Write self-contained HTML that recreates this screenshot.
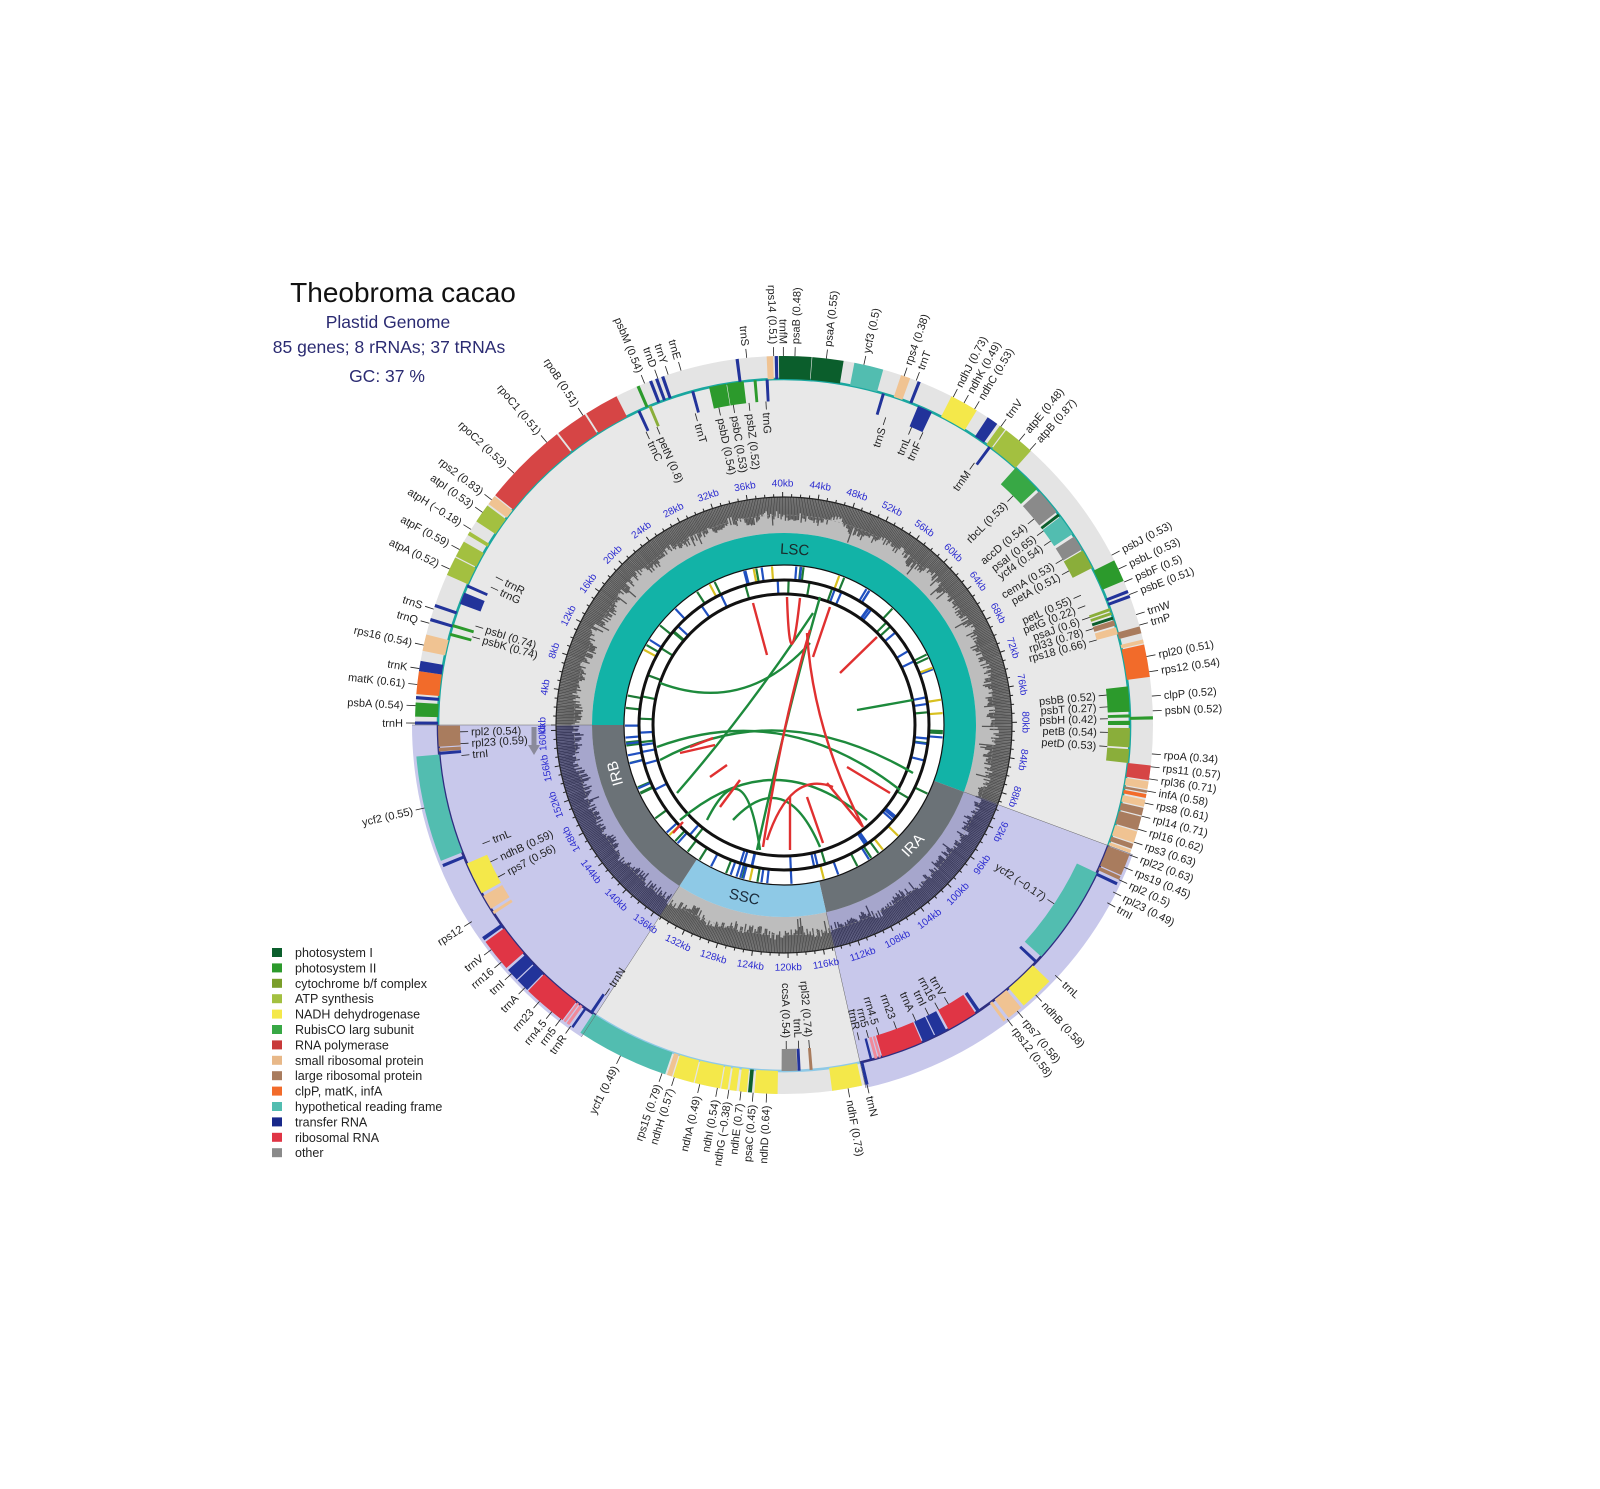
<!DOCTYPE html>
<html><head><meta charset="utf-8">
<style>
html,body{margin:0;padding:0;background:#fff;}
svg{display:block;font-family:"Liberation Sans",sans-serif;}
.lb{font-size:11px;fill:#222;}
.kb{font-size:10px;fill:#2c2cd0;}
.lg{font-size:12.5px;fill:#222;}
</style></head>
<body>
<svg id="S" width="1600" height="1489" viewBox="0 0 1600 1489" xmlns="http://www.w3.org/2000/svg">
<g id="base"></g>
<g id="gc"></g>
<g id="band"></g>
<g id="inner"></g>
<g id="genes"></g>
<g id="lead" stroke="#222" stroke-width="0.8" fill="none"></g>
<g id="labs">
<text class="lb" ph="180.3" sd="o">trnH</text>
<text class="lb" ph="183" sd="o">psbA (0.54)</text>
<text class="lb" ph="186.3" sd="o">matK (0.61)</text>
<text class="lb" ph="188.8" sd="o">trnK</text>
<text class="lb" ph="192.5" sd="o">rps16 (0.54)</text>
<text class="lb" ph="196" sd="o">trnQ</text>
<text class="lb" ph="198.3" sd="o">trnS</text>
<text class="lb" ph="205" sd="o">atpA (0.52)</text>
<text class="lb" ph="208.4" sd="o">atpF (0.59)</text>
<text class="lb" ph="212" sd="o">atpH (−0.18)</text>
<text class="lb" ph="215.2" sd="o">atpI (0.53)</text>
<text class="lb" ph="217.6" sd="o">rps2 (0.83)</text>
<text class="lb" ph="223" sd="o">rpoC2 (0.53)</text>
<text class="lb" ph="230" sd="o">rpoC1 (0.51)</text>
<text class="lb" ph="237" sd="o">rpoB (0.51)</text>
<text class="lb" ph="247.8" sd="o">psbM (0.54)</text>
<text class="lb" ph="250" sd="o">trnD</text>
<text class="lb" ph="251.7" sd="o">trnY</text>
<text class="lb" ph="253.8" sd="o">trnE</text>
<text class="lb" ph="264.2" sd="o">trnS</text>
<text class="lb" ph="268.4" sd="o">rps14 (0.51)</text>
<text class="lb" ph="269.9" sd="o">trnfM</text>
<text class="lb" ph="271.7" sd="o">psaB (0.48)</text>
<text class="lb" ph="276.6" sd="o">psaA (0.55)</text>
<text class="lb" ph="282.5" sd="o">ycf3 (0.5)</text>
<text class="lb" ph="289" sd="o">rps4 (0.38)</text>
<text class="lb" ph="291" sd="o">trnT</text>
<text class="lb" ph="297.3" sd="o">ndhJ (0.73)</text>
<text class="lb" ph="299.2" sd="o">ndhK (0.49)</text>
<text class="lb" ph="301.1" sd="o">ndhC (0.53)</text>
<text class="lb" ph="306" sd="o">trnV</text>
<text class="lb" ph="309.6" sd="o">atpE (0.48)</text>
<text class="lb" ph="311.8" sd="o">atpB (0.87)</text>
<text class="lb" ph="-27.4" sd="o">psbJ (0.53)</text>
<text class="lb" ph="-25" sd="o">psbL (0.53)</text>
<text class="lb" ph="-22.8" sd="o">psbF (0.5)</text>
<text class="lb" ph="-20.7" sd="o">psbE (0.51)</text>
<text class="lb" ph="-17.4" sd="o">trnW</text>
<text class="lb" ph="-15.7" sd="o">trnP</text>
<text class="lb" ph="-10.7" sd="o">rpl20 (0.51)</text>
<text class="lb" ph="-8.3" sd="o">rps12 (0.54)</text>
<text class="lb" ph="-4.5" sd="o">clpP (0.52)</text>
<text class="lb" ph="-2.2" sd="o">psbN (0.52)</text>
<text class="lb" ph="4.5" sd="o">rpoA (0.34)</text>
<text class="lb" ph="6.5" sd="o">rps11 (0.57)</text>
<text class="lb" ph="8.4" sd="o">rpl36 (0.71)</text>
<text class="lb" ph="10.3" sd="o">infA (0.58)</text>
<text class="lb" ph="12.2" sd="o">rps8 (0.61)</text>
<text class="lb" ph="14.3" sd="o">rpl14 (0.71)</text>
<text class="lb" ph="16.4" sd="o">rpl16 (0.62)</text>
<text class="lb" ph="18.5" sd="o">rps3 (0.63)</text>
<text class="lb" ph="20.6" sd="o">rpl22 (0.63)</text>
<text class="lb" ph="22.7" sd="o">rps19 (0.45)</text>
<text class="lb" ph="24.8" sd="o">rpl2 (0.5)</text>
<text class="lb" ph="26.9" sd="o">rpl23 (0.49)</text>
<text class="lb" ph="28.8" sd="o">trnI</text>
<text class="lb" ph="42.7" sd="o">trnL</text>
<text class="lb" ph="47" sd="o">ndhB (0.58)</text>
<text class="lb" ph="50.8" sd="o">rps7 (0.58)</text>
<text class="lb" ph="52.8" sd="o">rps12 (0.58)</text>
<text class="lb" ph="77" sd="o">trnN</text>
<text class="lb" ph="80" sd="o">ndhF (0.73)</text>
<text class="lb" ph="92.7" sd="o">ndhD (0.64)</text>
<text class="lb" ph="94.8" sd="o">psaC (0.45)</text>
<text class="lb" ph="96.7" sd="o">ndhE (0.7)</text>
<text class="lb" ph="98.6" sd="o">ndhG (−0.38)</text>
<text class="lb" ph="100.4" sd="o">ndhI (0.54)</text>
<text class="lb" ph="103.2" sd="o">ndhA (0.49)</text>
<text class="lb" ph="107.3" sd="o">ndhH (0.57)</text>
<text class="lb" ph="109.3" sd="o">rps15 (0.79)</text>
<text class="lb" ph="116.3" sd="o">ycf1 (0.49)</text>
<text class="lb" ph="125.3" sd="o">trnR</text>
<text class="lb" ph="127.2" sd="o">rrn5</text>
<text class="lb" ph="129" sd="o">rrn4.5</text>
<text class="lb" ph="131.5" sd="o">rrn23</text>
<text class="lb" ph="134.6" sd="o">trnA</text>
<text class="lb" ph="137.6" sd="o">trnI</text>
<text class="lb" ph="140" sd="o">rrn16</text>
<text class="lb" ph="142.5" sd="o">trnV</text>
<text class="lb" ph="147.8" sd="o">rps12</text>
<text class="lb" ph="167" sd="o">ycf2 (0.55)</text>
<text class="lb" ph="207.2" sd="i">trnR</text>
<text class="lb" ph="205.2" sd="i">trnG</text>
<text class="lb" ph="197.8" sd="i">psbI (0.74)</text>
<text class="lb" ph="195.8" sd="i">psbK (0.74)</text>
<text class="lb" ph="178.8" sd="i">rpl2 (0.54)</text>
<text class="lb" ph="176.7" sd="i">rpl23 (0.59)</text>
<text class="lb" ph="174.6" sd="i">trnI</text>
<text class="lb" ph="158.5" sd="i">trnL</text>
<text class="lb" ph="155" sd="i">ndhB (0.59)</text>
<text class="lb" ph="152" sd="i">rps7 (0.56)</text>
<text class="lb" ph="123.5" sd="i">trnN</text>
<text class="lb" ph="244.8" sd="i">trnC</text>
<text class="lb" ph="246.9" sd="i">petN (0.8)</text>
<text class="lb" ph="254.1" sd="i">trnT</text>
<text class="lb" ph="258.4" sd="i">psbD (0.54)</text>
<text class="lb" ph="261" sd="i">psbC (0.53)</text>
<text class="lb" ph="263.8" sd="i">psbZ (0.52)</text>
<text class="lb" ph="266.8" sd="i">trnG</text>
<text class="lb" ph="-71.7" sd="i">trnS</text>
<text class="lb" ph="-66.8" sd="i">trnL</text>
<text class="lb" ph="-64.6" sd="i">trnF</text>
<text class="lb" ph="-54" sd="i">trnM</text>
<text class="lb" ph="-45" sd="i">rbcL (0.53)</text>
<text class="lb" ph="-39.5" sd="i">accD (0.54)</text>
<text class="lb" ph="-36.8" sd="i">psaI (0.65)</text>
<text class="lb" ph="-34.6" sd="i">ycf4 (0.54)</text>
<text class="lb" ph="-30.7" sd="i">cemA (0.53)</text>
<text class="lb" ph="-28.4" sd="i">petA (0.51)</text>
<text class="lb" ph="-23.6" sd="i">petL (0.55)</text>
<text class="lb" ph="-21.6" sd="i">petG (0.22)</text>
<text class="lb" ph="-19.4" sd="i">psaJ (0.6)</text>
<text class="lb" ph="-17.3" sd="i">rpl33 (0.78)</text>
<text class="lb" ph="-15.2" sd="i">rps18 (0.66)</text>
<text class="lb" ph="-5.3" sd="i">psbB (0.52)</text>
<text class="lb" ph="-3.2" sd="i">psbT (0.27)</text>
<text class="lb" ph="-1.1" sd="i">psbH (0.42)</text>
<text class="lb" ph="1.3" sd="i">petB (0.54)</text>
<text class="lb" ph="3.8" sd="i">petD (0.53)</text>
<text class="lb" ph="33.5" sd="i">ycf2 (−0.17)</text>
<text class="lb" ph="59.5" sd="i">trnV</text>
<text class="lb" ph="61.5" sd="i">rrn16</text>
<text class="lb" ph="63.5" sd="i">trnI</text>
<text class="lb" ph="66" sd="i">trnA</text>
<text class="lb" ph="69.7" sd="i">rrn23</text>
<text class="lb" ph="73" sd="i">rrn4.5</text>
<text class="lb" ph="74.9" sd="i">rrn5</text>
<text class="lb" ph="76.6" sd="i">trnR</text>
<text class="lb" ph="85.5" sd="i">rpl32 (0.74)</text>
<text class="lb" ph="87.4" sd="i">trnL</text>
<text class="lb" ph="89.6" sd="i">ccsA (0.54)</text>
</g>
<g id="kbs">
<text class="kb" k="0">0kb</text><text class="kb" k="4">4kb</text><text class="kb" k="8">8kb</text><text class="kb" k="12">12kb</text><text class="kb" k="16">16kb</text><text class="kb" k="20">20kb</text><text class="kb" k="24">24kb</text><text class="kb" k="28">28kb</text><text class="kb" k="32">32kb</text><text class="kb" k="36">36kb</text><text class="kb" k="40">40kb</text><text class="kb" k="44">44kb</text><text class="kb" k="48">48kb</text><text class="kb" k="52">52kb</text><text class="kb" k="56">56kb</text><text class="kb" k="60">60kb</text><text class="kb" k="64">64kb</text><text class="kb" k="68">68kb</text><text class="kb" k="72">72kb</text><text class="kb" k="76">76kb</text><text class="kb" k="80">80kb</text><text class="kb" k="84">84kb</text><text class="kb" k="88">88kb</text><text class="kb" k="92">92kb</text><text class="kb" k="96">96kb</text><text class="kb" k="100">100kb</text><text class="kb" k="104">104kb</text><text class="kb" k="108">108kb</text><text class="kb" k="112">112kb</text><text class="kb" k="116">116kb</text><text class="kb" k="120">120kb</text><text class="kb" k="124">124kb</text><text class="kb" k="128">128kb</text><text class="kb" k="132">132kb</text><text class="kb" k="136">136kb</text><text class="kb" k="140">140kb</text><text class="kb" k="144">144kb</text><text class="kb" k="148">148kb</text><text class="kb" k="152">152kb</text><text class="kb" k="156">156kb</text><text class="kb" k="159.3">160kb</text>
</g>
<g id="regl" font-size="15" text-anchor="middle">
<text id="tLSC" fill="#1a2a2a">LSC</text>
<text id="tIRA" fill="#fff">IRA</text>
<text id="tSSC" fill="#1a2a3a">SSC</text>
<text id="tIRB" fill="#fff">IRB</text>
</g>
<line x1="534" y1="727" x2="534" y2="746" stroke="#8a8a9a" stroke-width="5"/>
<polygon points="528,745 540,745 534,755" fill="#8a8a9a"/>
<text x="403" y="302" font-size="28" text-anchor="middle" fill="#111">Theobroma cacao</text>
<text x="388" y="328" font-size="17.5" text-anchor="middle" fill="#2b2b72">Plastid Genome</text>
<text x="389" y="353" font-size="17.5" text-anchor="middle" fill="#2b2b72">85 genes; 8 rRNAs; 37 tRNAs</text>
<text x="387" y="382" font-size="17.5" text-anchor="middle" fill="#2b2b72">GC: 37 %</text>
<g id="legend">
<rect x="272" y="948" width="10" height="9" fill="#0b5e2c"/><text class="lg" x="295" y="957">photosystem I</text>
<rect x="272" y="963.4" width="10" height="9" fill="#2c9a2c"/><text class="lg" x="295" y="972.4">photosystem II</text>
<rect x="272" y="978.8" width="10" height="9" fill="#7a9e2a"/><text class="lg" x="295" y="987.8">cytochrome b/f complex</text>
<rect x="272" y="994.2" width="10" height="9" fill="#a3c040"/><text class="lg" x="295" y="1003.2">ATP synthesis</text>
<rect x="272" y="1009.6" width="10" height="9" fill="#f4e84a"/><text class="lg" x="295" y="1018.6">NADH dehydrogenase</text>
<rect x="272" y="1025" width="10" height="9" fill="#38a845"/><text class="lg" x="295" y="1034">RubisCO larg subunit</text>
<rect x="272" y="1040.4" width="10" height="9" fill="#c83a3a"/><text class="lg" x="295" y="1049.4">RNA polymerase</text>
<rect x="272" y="1055.8" width="10" height="9" fill="#e8b888"/><text class="lg" x="295" y="1064.8">small ribosomal protein</text>
<rect x="272" y="1071.2" width="10" height="9" fill="#a97c5e"/><text class="lg" x="295" y="1080.2">large ribosomal protein</text>
<rect x="272" y="1086.6" width="10" height="9" fill="#f26b2a"/><text class="lg" x="295" y="1095.6">clpP, matK, infA</text>
<rect x="272" y="1102" width="10" height="9" fill="#52bdb0"/><text class="lg" x="295" y="1111">hypothetical reading frame</text>
<rect x="272" y="1117.4" width="10" height="9" fill="#18288a"/><text class="lg" x="295" y="1126.4">transfer RNA</text>
<rect x="272" y="1132.8" width="10" height="9" fill="#e03545"/><text class="lg" x="295" y="1141.8">ribosomal RNA</text>
<rect x="272" y="1148.2" width="10" height="9" fill="#8a8a8a"/><text class="lg" x="295" y="1157.2">other</text>
</g>
</svg>
<script>
(function(){
var NS="http://www.w3.org/2000/svg",cx=784,cy=725;
function el(p,t,a){var e=document.createElementNS(NS,t);for(var k in a)e.setAttribute(k,a[k]);p.appendChild(e);return e;}
function pt(r,a){a=a*Math.PI/180;return [cx+r*Math.cos(a),cy+r*Math.sin(a)];}
function f(p){return p[0].toFixed(2)+","+p[1].toFixed(2);}
function sec(r1,r2,a1,a2){var l=(a2-a1)>180?1:0;
 return "M"+f(pt(r2,a1))+"A"+r2+","+r2+" 0 "+l+" 1 "+f(pt(r2,a2))+"L"+f(pt(r1,a2))+"A"+r1+","+r1+" 0 "+l+" 0 "+f(pt(r1,a1))+"Z";}
function A(k){return 180+k*360/160.6;}
var base=document.getElementById("base"),gc=document.getElementById("gc"),band=document.getElementById("band"),inner=document.getElementById("inner"),genes=document.getElementById("genes"),lead=document.getElementById("lead");
var LSC=[180,380.4],IRA=[380.4,437.3],SSC=[437.3,483],IRB=[483,540];
el(base,"circle",{cx:cx,cy:cy,r:369,fill:"#e4e4e4"});
el(base,"circle",{cx:cx,cy:cy,r:346,fill:"#e8e8e8"});
[IRA,IRB].forEach(function(g){el(base,"path",{d:sec(192,372,g[0],g[1]),fill:"#c8c8eb"});});
[[LSC,"#bdbdbd"],[SSC,"#bdbdbd"],[IRA,"#a6a6cc"],[IRB,"#a6a6cc"]].forEach(function(g){el(gc,"path",{d:sec(192,228,g[0][0],g[0][1]),fill:g[1]});});
var seed=7;function rnd(){seed=(seed*16807)%2147483647;return seed/2147483647;}
var dL="",dI="";
for(var i=0;i<900;i++){var a=180+i*0.4;var na=((a-180)%360+360)%360+180;
 var len=12+7*(0.5+0.5*Math.sin(i*0.21)*Math.cos(i*0.047))+rnd()*9;
 if(rnd()<0.04)len+=8;
 var p1=pt(228,a),p2=pt(228-len,a);var s="M"+f(p1)+"L"+f(p2);
 if((na>=IRA[0]&&na<IRA[1])||(na>=IRB[0]&&na<IRB[1]))dI+=s;else dL+=s;}
el(gc,"path",{d:dL,stroke:"#555",fill:"none","stroke-width":1.3});
el(gc,"path",{d:dI,stroke:"#3d3d5e",fill:"none","stroke-width":1.3});
el(gc,"circle",{cx:cx,cy:cy,r:210,fill:"none",stroke:"#9a9a9a","stroke-width":0.6,"stroke-dasharray":"2,2"});
el(gc,"circle",{cx:cx,cy:cy,r:228,fill:"none",stroke:"#222","stroke-width":1.2});
var tk="";for(var k=0;k<=160;k++){var l=(k%4==0)?5:3;tk+="M"+f(pt(228,A(k)))+"L"+f(pt(228+l,A(k)));}
el(gc,"path",{d:tk,stroke:"#222","stroke-width":1,fill:"none"});
el(band,"path",{d:sec(160,192,LSC[0],LSC[1]),fill:"#12b3a7"});
el(band,"path",{d:sec(160,192,IRA[0],IRA[1]),fill:"#6b7277"});
el(band,"path",{d:sec(160,192,SSC[0],SSC[1]),fill:"#8ec9e6"});
el(band,"path",{d:sec(160,192,IRB[0],IRB[1]),fill:"#6b7277"});
function tang(id,ang,r){var t=document.getElementById(id);var p=pt(r,ang);var n=((ang%360)+360)%360;var rot=(n>30&&n<150)?n-90:n+90;
 t.setAttribute("x",p[0]);t.setAttribute("y",p[1]);t.setAttribute("dy","0.35em");t.setAttribute("transform","rotate("+rot+" "+p[0]+" "+p[1]+")");}
tang("tLSC",-86.5,176);tang("tIRA",43,176);tang("tSSC",103,176);tang("tIRB",164,176);
el(inner,"circle",{cx:cx,cy:cy,r:160,fill:"#fff",stroke:"#111","stroke-width":1.2});
var cols=["#1d7a35","#1d7a35","#1d7a35","#2050c0","#2050c0","#d8c020"];
var d1={};
for(var i=0;i<75;i++){var a=rnd()*360;var c=cols[Math.floor(rnd()*cols.length)];d1[c]=(d1[c]||"")+"M"+f(pt(146,a))+"L"+f(pt(159,a));}
for(var i=0;i<55;i++){var a=rnd()*360;var c=rnd()<0.55?"#2050c0":"#1d7a35";d1[c]=(d1[c]||"")+"M"+f(pt(132,a))+"L"+f(pt(144,a));}
for(var c in d1)el(inner,"path",{d:d1[c],stroke:c,"stroke-width":2.2,fill:"none"});
el(inner,"circle",{cx:cx,cy:cy,r:145,fill:"none",stroke:"#111","stroke-width":3});
el(inner,"circle",{cx:cx,cy:cy,r:131,fill:"none",stroke:"#111","stroke-width":3});
var G="#1d8a3c",R="#e03030";
var ch=[
[G,"M660,683 Q745,715 810,643"],[G,"M857,710 L913,700"],[G,"M677,793 Q745,715 813,613"],
[G,"M657,747 Q785,700 900,790"],[G,"M660,760 Q780,695 913,773"],[G,"M680,820 Q775,740 867,820"],
[G,"M707,820 Q745,745 760,850"],[G,"M757,850 Q790,700 820,597"],[G,"M733,820 Q785,765 820,847"],
[R,"M753,603 L767,655"],[R,"M787,597 Q790,690 800,598"],[R,"M830,607 L813,657"],[R,"M877,637 L840,673"],
[R,"M810,630 Q783,720 763,847"],[R,"M807,633 Q813,730 863,827"],[R,"M690,747 L713,738"],[R,"M680,753 L715,745"],
[R,"M710,777 L727,765"],[R,"M720,807 L740,780"],[R,"M767,840 Q790,770 833,787"],[R,"M790,797 L790,850"],
[R,"M807,797 L823,843"],[R,"M827,783 L863,827"],[R,"M847,767 L890,793"],[R,"M673,833 L683,822"]];
ch.forEach(function(c){el(inner,"path",{d:c[1],stroke:c[0],"stroke-width":2.4,fill:"none"});});
[[LSC,"#1aa79f"],[IRA,"#2e2e80"],[SSC,"#8ec9e6"],[IRB,"#2e2e80"]].forEach(function(g){
 var lf=(g[0][1]-g[0][0])>180?1:0;
 el(genes,"path",{d:"M"+f(pt(346,g[0][0]))+"A346,346 0 "+lf+" 1 "+f(pt(346,g[0][1])),stroke:g[1],"stroke-width":2.6,fill:"none"});});
var C={PSI:"#0b5e2c",PSII:"#2c9a2c",CYT:"#8aae3a",ATP:"#a3c040",NDH:"#f4e84a",RBC:"#38a845",RPO:"#d64545",SRP:"#f0c392",LRP:"#a97c5e",CLP:"#f26b2a",YCF:"#52bdb0",TR:"#22339a",RR:"#e03545",PK:"#f08a9a",OTH:"#8a8a8a"};
function gene(s,a1,a2,c){if(a2==null||a2<=a1){a2=a1+0.45;a1=a1-0.05;}
 var r1=s=="o"?346:324,r2=s=="o"?369:346;el(genes,"path",{d:sec(r1,r2,a1,a2),fill:C[c]});}
var L=[
["o",180.1,null,"TR"],["o",181.3,183.5,"PSII"],["o",184,184.5,"TR"],["o",184.8,188.4,"CLP"],["o",188.4,190,"TR"],
["o",191.6,194.2,"SRP"],["o",196.4,null,"TR"],["o",198.7,null,"TR"],
["i",195,null,"PSII"],["i",196.5,null,"PSII"],["i",200.5,202.5,"TR"],["i",203.5,null,"TR"],
["o",204,207,"ATP"],["o",207.2,209.8,"ATP"],["o",211,211.6,"ATP"],["o",213.5,216.5,"ATP"],["o",216.8,218.3,"SRP"],
["o",218.5,232,"RPO"],["o",232.3,237.3,"RPO"],["o",237.6,243,"RPO"],
["i",245,null,"TR"],["i",247,null,"CYT"],["o",246.5,null,"PSII"],["o",248.6,null,"TR"],["o",249.6,null,"TR"],["o",250.6,null,"TR"],
["i",254.5,null,"TR"],["i",257.5,260.4,"PSII"],["i",260.5,263.3,"PSII"],["i",265,null,"PSII"],["i",267,null,"TR"],
["o",262.5,null,"TR"],["o",267.3,268.3,"SRP"],["o",268.6,null,"TR"],["o",269.2,274.3,"PSI"],["o",274.4,279.3,"PSI"],
["o",281,285.6,"YCF"],["i",286.5,null,"TR"],["o",288.5,290,"SRP"],["o",291.3,null,"TR"],["i",292.8,295.3,"TR"],
["o",297,301.5,"NDH"],["o",303.5,305.3,"TR"],["i",306.3,null,"TR"],["o",305.8,306.8,"ATP"],["o",307,312,"ATP"],
["i",312,317,"RBC"],["i",317.5,322,"OTH"],["i",322.4,null,"PSI"],["i",323,326.5,"YCF"],["i",327,329.5,"OTH"],["i",329.7,333,"CYT"],
["o",333.5,337,"PSII"],["o",338.6,null,"TR"],["o",339.4,null,"TR"],["i",340.3,null,"CYT"],["i",341,null,"CYT"],["i",341.8,null,"PSI"],
["i",342.4,343.3,"LRP"],["i",343.6,344.8,"SRP"],["o",344.5,345.6,"LRP"],["o",346.6,347.2,"SRP"],["o",347.4,352.5,"CLP"],
["i",353.6,357.8,"PSII"],["i",358.3,null,"PSII"],["o",358.7,null,"PSII"],["i",359.3,360,"PSII"],["i",360.5,363.7,"CYT"],["i",364,366.3,"CYT"],
["o",366.3,368.6,"RPO"],["o",368.8,370,"SRP"],["o",370.2,370.6,"LRP"],["o",370.8,371.4,"CLP"],["o",371.7,372.8,"SRP"],
["o",373,374.2,"LRP"],["o",374.4,376.6,"LRP"],["o",376.8,378.6,"SRP"],["o",378.8,379.6,"LRP"],["o",379.8,380.3,"SRP"],
["o",380.5,384,"LRP"],["o",384.2,384.8,"LRP"],["o",385.3,null,"TR"],["i",385.3,402,"YCF"],["i",403,null,"TR"],
["o",404,409.5,"NDH"],["o",410,412.5,"SRP"],["o",413,413.5,"SRP"],
["i",415.5,416.1,"TR"],["i",416.4,421.6,"RR"],["i",422,424,"TR"],["i",424.2,426.3,"TR"],["i",426.5,433.5,"RR"],
["i",433.7,434.1,"PK"],["i",434.3,434.8,"PK"],["i",435.2,435.6,"TR"],["o",436.8,null,"TR"]];
L.forEach(function(g){gene(g[0],g[1],g[2],g[3]);
 if(g[1]>=380.4&&g[1]<437.3){var b2=g[2]==null?null:920.4-g[1],b1=g[2]==null?920.4-g[1]:920.4-g[2];gene(g[0]=="o"?"i":"o",b1,b2,g[3]);}});
[["o",437.8,442.5,"NDH"],["i",445.3,null,"LRP"],["i",447.3,null,"TR"],["i",447.8,450.4,"OTH"],["o",451,454.6,"NDH"],
 ["o",455,455.6,"PSI"],["o",455.8,457,"NDH"],["o",457.4,458.5,"NDH"],["o",458.8,459.8,"NDH"],["o",460,464,"NDH"],
 ["o",464.2,467.5,"NDH"],["o",467.7,468.5,"SRP"],["o",468.8,483.5,"YCF"]].forEach(function(g){gene(g[0],g[1],g[2],g[3]);});
[LSC[1],IRA[1],SSC[1],IRB[1]].forEach(function(a){el(genes,"path",{d:"M"+f(pt(192,a))+"L"+f(pt(372,a)),stroke:"#666","stroke-width":0.5});});
var labs=document.querySelectorAll("#labs text");
for(var i=0;i<labs.length;i++){var t=labs[i];var a=parseFloat(t.getAttribute("ph")),s=t.getAttribute("sd");
 var n=((a%360)+360)%360,right=(n<=90||n>=270);var r=s=="o"?381:313;var rot,x,anc;
 if(right){rot=n;x=cx+r;anc=s=="o"?"start":"end";}else{rot=n-180;x=cx-r;anc=s=="o"?"end":"start";}
 t.setAttribute("x",x);t.setAttribute("y",cy);t.setAttribute("dy","0.35em");t.setAttribute("text-anchor",anc);
 t.setAttribute("transform","rotate("+rot.toFixed(2)+" "+cx+" "+cy+")");
 var p1,p2;if(s=="o"){p1=pt(369,a);p2=pt(378,a);}else{p1=pt(324,a);p2=pt(316,a);}
 el(lead,"path",{d:"M"+f(p1)+"L"+f(p2)});}
var kbs=document.querySelectorAll("#kbs text");
for(var i=0;i<kbs.length;i++){var t=kbs[i];var a=A(parseFloat(t.getAttribute("k")));var p=pt(242,a);
 var n=((a%360)+360)%360;var rot=(n>30&&n<150)?n-90:n+90;
 t.setAttribute("x",p[0]);t.setAttribute("y",p[1]);t.setAttribute("dy","0.35em");t.setAttribute("text-anchor","middle");
 t.setAttribute("transform","rotate("+rot.toFixed(2)+" "+p[0].toFixed(2)+" "+p[1].toFixed(2)+")");}
})();
</script>
</body></html>
